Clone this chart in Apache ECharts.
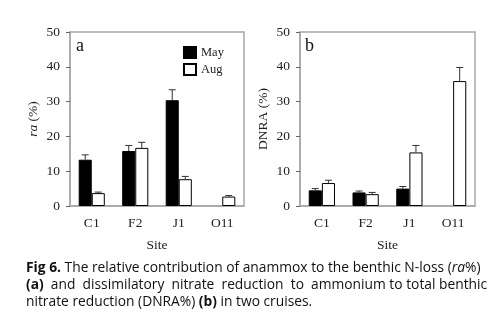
<!DOCTYPE html>
<html><head><meta charset="utf-8">
<script src="https://cdn.jsdelivr.net/npm/echarts@6/dist/echarts.min.js"></script>
<style>html,body{margin:0;padding:0;background:#fff}#c{width:498px;height:328px}</style>
</head><body><div id="c"></div>
<script>
const sites = ['C1','F2','J1','O11'];
const yTicks = [0,10,20,30,40,50];
// panel a: ra (%)
const raMay = [13.3, 15.8, 30.4, null];
const raMayErr = [1.4, 1.6, 3.0, null];
const raAug = [3.7, 16.7, 7.7, 2.7];
const raAugErr = [0.3, 1.6, 0.8, 0.3];
// panel b: DNRA (%)
const dnMay = [4.5, 3.9, 5.0, null];
const dnMayErr = [0.5, 0.4, 0.6, null];
const dnAug = [6.6, 3.4, 15.4, 35.9];
const dnAugErr = [0.8, 0.5, 2.0, 3.9];

const serif = 'Liberation Serif';
const axisGray = '#a8a8a8';
const capFont = 'Open Sans';
const capSize = 13.8;

function xAxis(gi){
  return {type:'category', gridIndex:gi, data:sites,
    axisLine:{lineStyle:{color:axisGray,width:1.5}}, axisTick:{show:false},
    axisLabel:{fontFamily:serif,fontSize:13.5,color:'#222',margin:10},
    name:'Site', nameLocation:'middle', nameGap:32,
    nameTextStyle:{fontFamily:serif,fontSize:13.5,color:'#222'}};
}
function yAxis(gi,name,rich){
  return {type:'value', gridIndex:gi, min:yTicks[0], max:yTicks[yTicks.length-1], interval:yTicks[1]-yTicks[0],
    axisLine:{show:true,lineStyle:{color:axisGray,width:1.5}},
    axisTick:{show:true,length:4,lineStyle:{color:'#666'}},
    splitLine:{show:false},
    axisLabel:{fontFamily:serif,fontSize:13.5,color:'#222',margin:10},
    name:name, nameLocation:'middle', nameGap:30,
    nameTextStyle:Object.assign({fontFamily:serif,fontSize:13.5,color:'#222'}, rich?{rich:rich}:{})};
}
function errSeries(gi, vals, errs, side){
  const data = vals.map((v,i)=> v==null? [i,null,null] : [i, v, v+errs[i]]);
  return {type:'custom', xAxisIndex:gi, yAxisIndex:gi, data:data, z:5, silent:true,
    renderItem:function(params, api){
      const v = api.value(1);
      if (v==null || isNaN(v)) return null;
      const band = api.size([1,0])[0];
      const bw = band*0.6/2;
      const p0 = api.coord([api.value(0), v]);
      const p1 = api.coord([api.value(0), api.value(2)]);
      const x = p0[0] + side*bw/2;
      const cap = 3.5;
      return {type:'group', children:[
        {type:'line', shape:{x1:x,y1:p0[1],x2:x,y2:p1[1]}, style:{stroke:'#333',lineWidth:1}},
        {type:'line', shape:{x1:x-cap,y1:p1[1],x2:x+cap,y2:p1[1]}, style:{stroke:'#333',lineWidth:1}}
      ]};
    }};
}
function bar(gi,name,vals,color){
  return {type:'bar', name:name, xAxisIndex:gi, yAxisIndex:gi, data:vals,
    barGap:'0%', barCategoryGap:'40%',
    itemStyle:{color:color,borderColor:'#000',borderWidth:1}};
}
function capStyle(text){
  return {text:text, font:capSize+'px "'+capFont+'"', fill:'#111',
    rich:{b:{fontWeight:'bold',fontFamily:capFont,fontSize:capSize,fill:'#111'},
          i:{fontStyle:'italic',fontFamily:capFont,fontSize:capSize,fill:'#111'}}};
}

const chart = echarts.init(document.getElementById('c'), null, {renderer:'canvas'});
chart.setOption({
  animation:false,
  grid:[
    {left:70, right:254, top:32, bottom:122, show:true, borderColor:axisGray, borderWidth:1.5},
    {left:300, right:23, top:32, bottom:122, show:true, borderColor:axisGray, borderWidth:1.5}
  ],
  xAxis:[xAxis(0), xAxis(1)],
  yAxis:[yAxis(0,'{i|ra} (%)',{i:{fontFamily:serif,fontSize:13.5,fontStyle:'italic',color:'#222'}}), yAxis(1,'DNRA (%)')],
  legend:{show:true, orient:'vertical', left:178, top:41, itemWidth:12, itemHeight:11, itemGap:4,
    icon:'rect',
    textStyle:{fontFamily:serif,fontSize:12.5,color:'#222'},
    data:[{name:'May'},{name:'Aug'}]},
  series:[
    bar(0,'May',raMay,'#000'), bar(0,'Aug',raAug,'#fff'),
    errSeries(0,raMay,raMayErr,-1), errSeries(0,raAug,raAugErr,1),
    bar(1,'May',dnMay,'#000'), bar(1,'Aug',dnAug,'#fff'),
    errSeries(1,dnMay,dnMayErr,-1), errSeries(1,dnAug,dnAugErr,1)
  ],
  graphic:[
    {type:'text', left:76, top:37, style:{text:'a', font:'18px "Liberation Serif"', fill:'#111'}},
    {type:'text', left:305, top:37, style:{text:'b', font:'18px "Liberation Serif"', fill:'#111'}},
    {type:'text', left:26, top:261, style:capStyle('{b|Fig 6.} The relative contribution of anammox to the benthic N-loss ({i|ra}%)')},
    {type:'text', left:26, top:278, style:capStyle('{b|(a)}  and  dissimilatory  nitrate  reduction  to  ammonium to total benthic')},
    {type:'text', left:26, top:295, style:capStyle('nitrate reduction (DNRA%) {b|(b)} in two cruises.')}
  ]
});
</script></body></html>
